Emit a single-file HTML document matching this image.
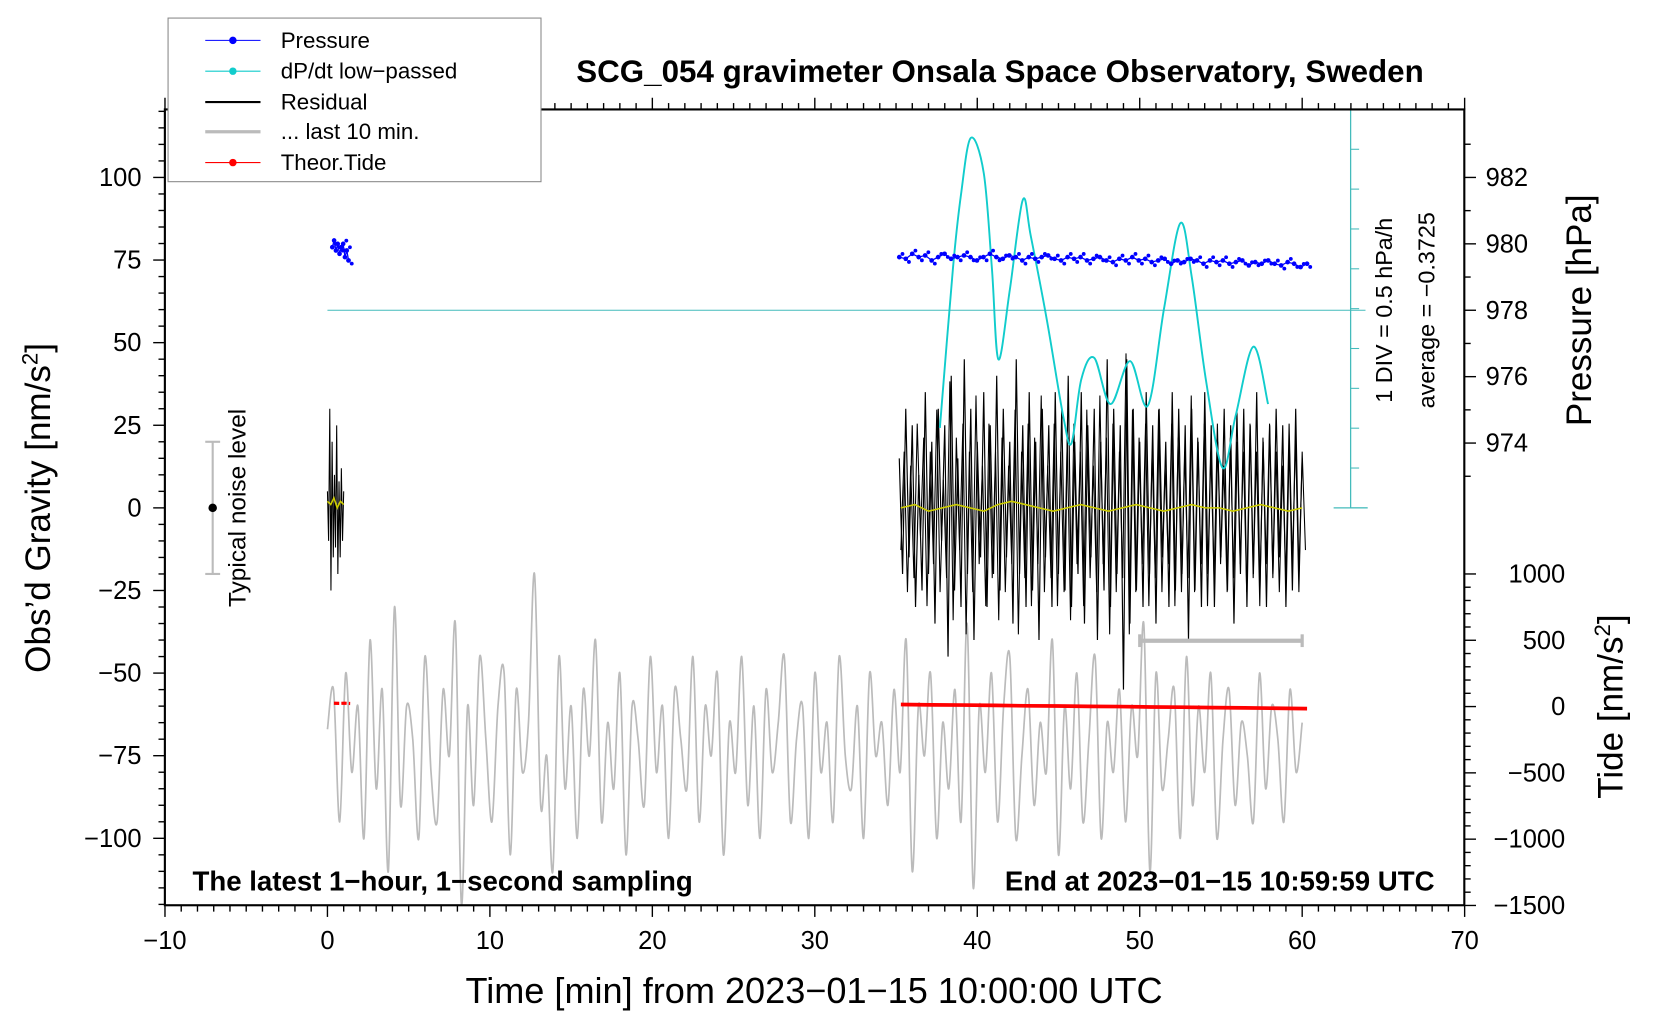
<!DOCTYPE html>
<html><head><meta charset="utf-8"><style>
html,body{margin:0;padding:0;background:#fff;}
svg{display:block;font-family:"Liberation Sans",Arial,sans-serif;}
</style></head><body>
<svg id="chart" width="1660" height="1020" viewBox="0 0 1562 960" xmlns="http://www.w3.org/2000/svg">
<rect x="0" y="0" width="1562" height="960" fill="#fff"/>
<g id="data-layer"></g>
<g id="axes-layer"></g>
<text x="941" y="77" font-size="29.5" font-weight="bold" text-anchor="middle">SCG_054 gravimeter Onsala Space Observatory, Sweden</text>
<text x="766" y="944" font-size="34" text-anchor="middle">Time [min] from 2023−01−15 10:00:00 UTC</text>
<text transform="translate(47,478) rotate(-90)" font-size="33" text-anchor="middle">Obs’d Gravity [nm/s<tspan font-size="21" dy="-12">2</tspan><tspan dy="12">]</tspan></text>
<text transform="translate(1497,292) rotate(-90)" font-size="33" text-anchor="middle">Pressure [hPa]</text>
<text transform="translate(1527,665) rotate(-90)" font-size="33" text-anchor="middle">Tide [nm/s<tspan font-size="21" dy="-12">2</tspan><tspan dy="12">]</tspan></text>
<text x="181" y="838" font-size="26" font-weight="bold">The latest 1−hour, 1−second sampling</text>
<text x="1350" y="838" font-size="26" font-weight="bold" text-anchor="end">End at 2023−01−15 10:59:59 UTC</text>
<text transform="translate(1310,292) rotate(-90)" font-size="22" text-anchor="middle">1 DIV = 0.5 hPa/h</text>
<text transform="translate(1350,292) rotate(-90)" font-size="22" text-anchor="middle">average = −0.3725</text>
<text transform="translate(231,478) rotate(-90)" font-size="23" text-anchor="middle">Typical noise level</text>
<g>
<rect x="158" y="17" width="351" height="154" fill="#fff" stroke="#888" stroke-width="1"/>
<g><line x1="193" y1="38" x2="245" y2="38" stroke="#00f" stroke-width="1"/><circle cx="219" cy="38" r="3.5" fill="#00f"/><text x="264" y="45" font-size="21">Pressure</text></g>
<g><line x1="193" y1="67" x2="245" y2="67" stroke="#1cc" stroke-width="1"/><circle cx="219" cy="67" r="3.5" fill="#1cc"/><text x="264" y="74" font-size="21">dP/dt low−passed</text></g>
<g><line x1="193" y1="96" x2="245" y2="96" stroke="#000" stroke-width="2"/><text x="264" y="103" font-size="21">Residual</text></g>
<g><line x1="193" y1="124" x2="245" y2="124" stroke="#bbb" stroke-width="3"/><text x="264" y="131" font-size="21">... last 10 min.</text></g>
<g><line x1="193" y1="153" x2="245" y2="153" stroke="#f00" stroke-width="1"/><circle cx="219" cy="153" r="3.5" fill="#f00"/><text x="264" y="160" font-size="21">Theor.Tide</text></g>
</g>
</svg>
<script>
// ---- data ----
const xTicks = [-10,0,10,20,30,40,50,60,70];
const yTicks = [100,75,50,25,0,-25,-50,-75,-100];
const pTicks = [982,980,978,976,974];
const tideTicks = [1000,500,0,-500,-1000,-1500];
const grayVals = [-67,-55,-95,-50,-80,-60,-100,-40,-85,-55,-110,-30,-90,-60,-70,-100,-45,-80,-95,-55,-75,-35,-120,-60,-90,-45,-70,-95,-60,-50,-105,-55,-80,-65,-20,-90,-75,-110,-45,-85,-60,-100,-55,-75,-40,-95,-65,-85,-50,-105,-60,-70,-90,-45,-80,-60,-100,-55,-70,-85,-45,-95,-60,-75,-50,-105,-65,-80,-45,-90,-60,-100,-55,-80,-65,-45,-95,-70,-60,-100,-50,-80,-65,-95,-45,-75,-85,-60,-100,-50,-75,-65,-90,-55,-80,-40,-110,-60,-75,-50,-100,-65,-85,-55,-95,-35,-115,-60,-80,-50,-95,-60,-45,-100,-75,-55,-90,-65,-80,-40,-105,-60,-85,-50,-95,-70,-45,-100,-65,-80,-55,-95,-60,-75,-35,-110,-50,-85,-70,-55,-100,-45,-90,-60,-80,-50,-100,-70,-55,-90,-65,-75,-95,-50,-85,-60,-70,-95,-55,-80,-65];
const residA = [5,-10,30,-25,20,-15,10,-12,25,-20,8,-15,12,-10,5];
const residB = [15,-20,30,-15,25,-30,10,-25,35,-20,20,-35,30,-10,25,-45,40,-25,15,-30,45,-20,30,-40,20,-15,35,-30,25,-20,40,-25,30,-15,20,-35,45,-20,25,-30,35,-25,20,-40,30,-15,25,-30,35,-20,30,-25,40,-30,20,-20,35,-35,25,-15,30,-40,20,-25,45,-30,30,-20,25,-55,45,-35,30,-25,20,-30,35,-20,25,-35,30,-15,20,-30,35,-25,30,-20,25,-40,30,-25,20,-30,35,-20,25,-30,20,-15,30,-25,25,-35,20,-20,30,-30,25,-20,35,-25,20,-30,25,-20,30,-15,25,-30,20,-25,30,-20,15];
const smoothA = [2,1,3,0,2,1];
const smoothB = [0,1,-1,0,1,0,-1,1,2,1,0,-1,0,1,0,-1,0,1,0,-1,0,1,0,0,-1,0,1,0,-1,0];
const pressA = [979.9,980.1,979.8,980.0,979.7,979.9,980.0,979.6,979.8,979.5];
const pressB = [979.6,979.55,979.7,979.6,979.65,979.5,979.6,979.7,979.55,979.6,979.65,979.6,979.5,979.6,979.7,979.6,979.55,979.65,979.6,979.5,979.6,979.55,979.6,979.65,979.55,979.5,979.6,979.55,979.6,979.5,979.55,979.6,979.5,979.45,979.55,979.5,979.6,979.5,979.55,979.45,979.5,979.55,979.4,979.5,979.45,979.55,979.5,979.4,979.5,979.45,979.5,979.4,979.45,979.5,979.35,979.45,979.4,979.5,979.4,979.35,979.45,979.4,979.3,979.4];
const dpdtTimes = [37.7,38.5,39.0,39.6,40.4,40.9,41.3,42.0,42.8,43.3,44.3,45.3,45.8,46.4,47.2,48.2,49.4,50.5,51.5,52.5,53.2,54.1,55.1,55.9,57.0,57.9];
const dpdtVals = [-1.85,0.15,1.08,1.79,1.35,0.15,-0.99,-0.12,1.01,0.55,-0.51,-1.71,-2.04,-1.24,-0.97,-1.55,-1.01,-1.57,-0.35,0.72,0.05,-1.28,-2.35,-1.7,-0.83,-1.55];
const dpdtAvg = -0.3725;
const tideA = [25,24,25,23];
const tideB = [15,13,11,9,6,4,2,0,-3,-5,-8,-10,-13,-15];

// ---- scales ----
const X0=155,X1=1378,Y0=103,Y1=852;
const xs = t => 308 + t*15.29;
const ys = v => 478 - v*3.11;
const ps = p => 292 - (p-978)*31.25;
const ts = v => 665 - v*0.1248;
const ds = v => 292 - (v-dpdtAvg)*75;
const NS='http://www.w3.org/2000/svg';
const dl=document.getElementById('data-layer'), al=document.getElementById('axes-layer');
function mk(tag,attrs,parent){const e=document.createElementNS(NS,tag);for(const k in attrs)e.setAttribute(k,attrs[k]);parent.appendChild(e);return e;}
function poly(tArr,vArr,sc){return tArr.map((t,i)=>xs(t).toFixed(1)+','+sc(vArr[i]).toFixed(1)).join(' ');}
function range(a,b,n){const r=[];for(let i=0;i<n;i++)r.push(n>1?a+(b-a)*i/(n-1):a);return r;}
function smoothPath(tArr,vArr,sc){const P=tArr.map((t,i)=>[xs(t),sc(vArr[i])]);let d='M'+P[0][0].toFixed(1)+','+P[0][1].toFixed(1);
for(let i=0;i<P.length-1;i++){const p0=P[Math.max(0,i-1)],p1=P[i],p2=P[i+1],p3=P[Math.min(P.length-1,i+2)];
d+=' C'+(p1[0]+(p2[0]-p0[0])/6).toFixed(1)+','+(p1[1]+(p2[1]-p0[1])/6).toFixed(1)+' '+(p2[0]-(p3[0]-p1[0])/6).toFixed(1)+','+(p2[1]-(p3[1]-p1[1])/6).toFixed(1)+' '+p2[0].toFixed(1)+','+p2[1].toFixed(1);}
return d;}

// gray
let e=mk('path',{d:smoothPath(range(0,60,grayVals.length),grayVals,ys),fill:'none',stroke:'#bbb','stroke-width':1.6},dl);


// cyan reference lines
e=mk('line',{x1:xs(0),x2:1285,y1:ds(dpdtAvg),y2:ds(dpdtAvg),stroke:'#4bb','stroke-width':1},dl);


e=mk('line',{x1:1271,x2:1271,y1:Y0,y2:478,stroke:'#4bb','stroke-width':1.2},dl);


for(let i=0;i<=10;i++){const y=Y0+i*37.5;mk('line',{x1:1271,x2:i%10==0?1287:1279,y1:y,y2:y,stroke:'#4bb','stroke-width':1},dl);}
mk('line',{x1:1255,x2:1287,y1:Y0,y2:Y0,stroke:'#4bb','stroke-width':1.2},dl);
mk('line',{x1:1255,x2:1287,y1:478,y2:478,stroke:'#4bb','stroke-width':1.2},dl);
// residual
e=mk('polyline',{points:poly(range(0,1.0,residA.length),residA,ys),fill:'none',stroke:'#000','stroke-width':1},dl);


e=mk('polyline',{points:poly(range(35.2,60,residB.length),residB,ys),fill:'none',stroke:'#000','stroke-width':1.1},dl);


e=mk('polyline',{points:poly(range(35.3,60.2,residB.length),residB.map(v=>-v*0.85),ys),fill:'none',stroke:'#000','stroke-width':1},dl);


// smoothed
e=mk('polyline',{points:poly(range(0,1,smoothA.length),smoothA,ys),fill:'none',stroke:'#cc0','stroke-width':1.5},dl);


e=mk('polyline',{points:poly(range(35.3,60,smoothB.length),smoothB,ys),fill:'none',stroke:'#cc0','stroke-width':1.5},dl);


// dpdt
e=mk('path',{d:smoothPath(dpdtTimes,dpdtVals,ds),fill:'none',stroke:'#1cc','stroke-width':1.8},dl);


// pressure
function pdots(tArr,vArr,name){const g=mk('g',{},dl);


mk('polyline',{points:poly(tArr,vArr,ps),fill:'none',stroke:'#00f','stroke-width':1.2},g);
tArr.forEach((t,i)=>{mk('circle',{cx:xs(t),cy:ps(vArr[i]),r:2.2,fill:'#00f'},g);
mk('circle',{cx:xs(t)+3,cy:ps(vArr[i])+(i%2?3:-3),r:1.8,fill:'#00f'},g);});}
pdots(range(0.3,1.3,pressA.length),pressA,'pressure-points-start');
pdots(range(35.2,60.3,pressB.length),pressB,'pressure-points');
// tide
e=mk('polyline',{points:poly(range(0.4,1.4,tideA.length),tideA,ts),fill:'none',stroke:'#f00','stroke-width':3,'stroke-dasharray':'5,2'},dl);


e=mk('polyline',{points:poly(range(35.3,60.3,tideB.length),tideB,ts),fill:'none',stroke:'#f00','stroke-width':3.5},dl);


// last-10-min bracket
e=mk('g',{},dl);


mk('line',{x1:xs(50),x2:xs(60),y1:603,y2:603,stroke:'#bbb','stroke-width':4},e);
mk('line',{x1:xs(50),x2:xs(50),y1:597,y2:609,stroke:'#bbb','stroke-width':3},e);
mk('line',{x1:xs(60),x2:xs(60),y1:597,y2:609,stroke:'#bbb','stroke-width':3},e);
// noise bar
e=mk('g',{},dl);


mk('line',{x1:200,x2:200,y1:ys(20),y2:ys(-20),stroke:'#bbb','stroke-width':2},e);
mk('line',{x1:193,x2:207,y1:ys(20),y2:ys(20),stroke:'#bbb','stroke-width':2},e);
mk('line',{x1:193,x2:207,y1:ys(-20),y2:ys(-20),stroke:'#bbb','stroke-width':2},e);
mk('circle',{cx:200,cy:478,r:4,fill:'#000'},e);
// frame
mk('rect',{x:X0,y:Y0,width:X1-X0,height:Y1-Y0,fill:'none',stroke:'#000','stroke-width':2},al);
// x ticks
for(let t=-10;t<=70;t++){const x=xs(t),maj=t%10==0;
mk('line',{x1:x,x2:x,y1:Y1,y2:Y1+(maj?11:6),stroke:'#000','stroke-width':1.3},al);
mk('line',{x1:x,x2:x,y1:Y0,y2:Y0-(maj?11:6),stroke:'#000','stroke-width':1.3},al);}
xTicks.forEach(t=>{const el=mk('text',{x:xs(t),y:893,'font-size':24,'text-anchor':'middle'},al);el.textContent=String(t).replace('-','−');

});
// y ticks
for(let v=-120;v<=120;v+=5){const y=ys(v),maj=v%25==0;mk('line',{x1:X0,x2:X0-(maj?11:6),y1:y,y2:y,stroke:'#000','stroke-width':1.3},al);}
yTicks.forEach(v=>{const el=mk('text',{x:133,y:ys(v)+8,'font-size':24,'text-anchor':'end'},al);el.textContent=String(v).replace('-','−');

});
// pressure ticks
for(let p=973;p<=983;p++){const y=ps(p);if(y<Y0||y>478)continue;mk('line',{x1:X1,x2:X1+(p%2==0?11:6),y1:y,y2:y,stroke:'#000','stroke-width':1.3},al);}
pTicks.forEach(p=>{const el=mk('text',{x:1398,y:ps(p)+8,'font-size':24},al);el.textContent=String(p);

});
// tide ticks
for(let v=-1500;v<=1000;v+=100){const y=ts(v);mk('line',{x1:X1,x2:X1+(v%500==0?11:6),y1:y,y2:y,stroke:'#000','stroke-width':1.3},al);}
tideTicks.forEach(v=>{const el=mk('text',{x:1473,y:ts(v)+8,'font-size':24,'text-anchor':'end'},al);el.textContent=String(v).replace('-','−');

});
</script>
</body></html>
